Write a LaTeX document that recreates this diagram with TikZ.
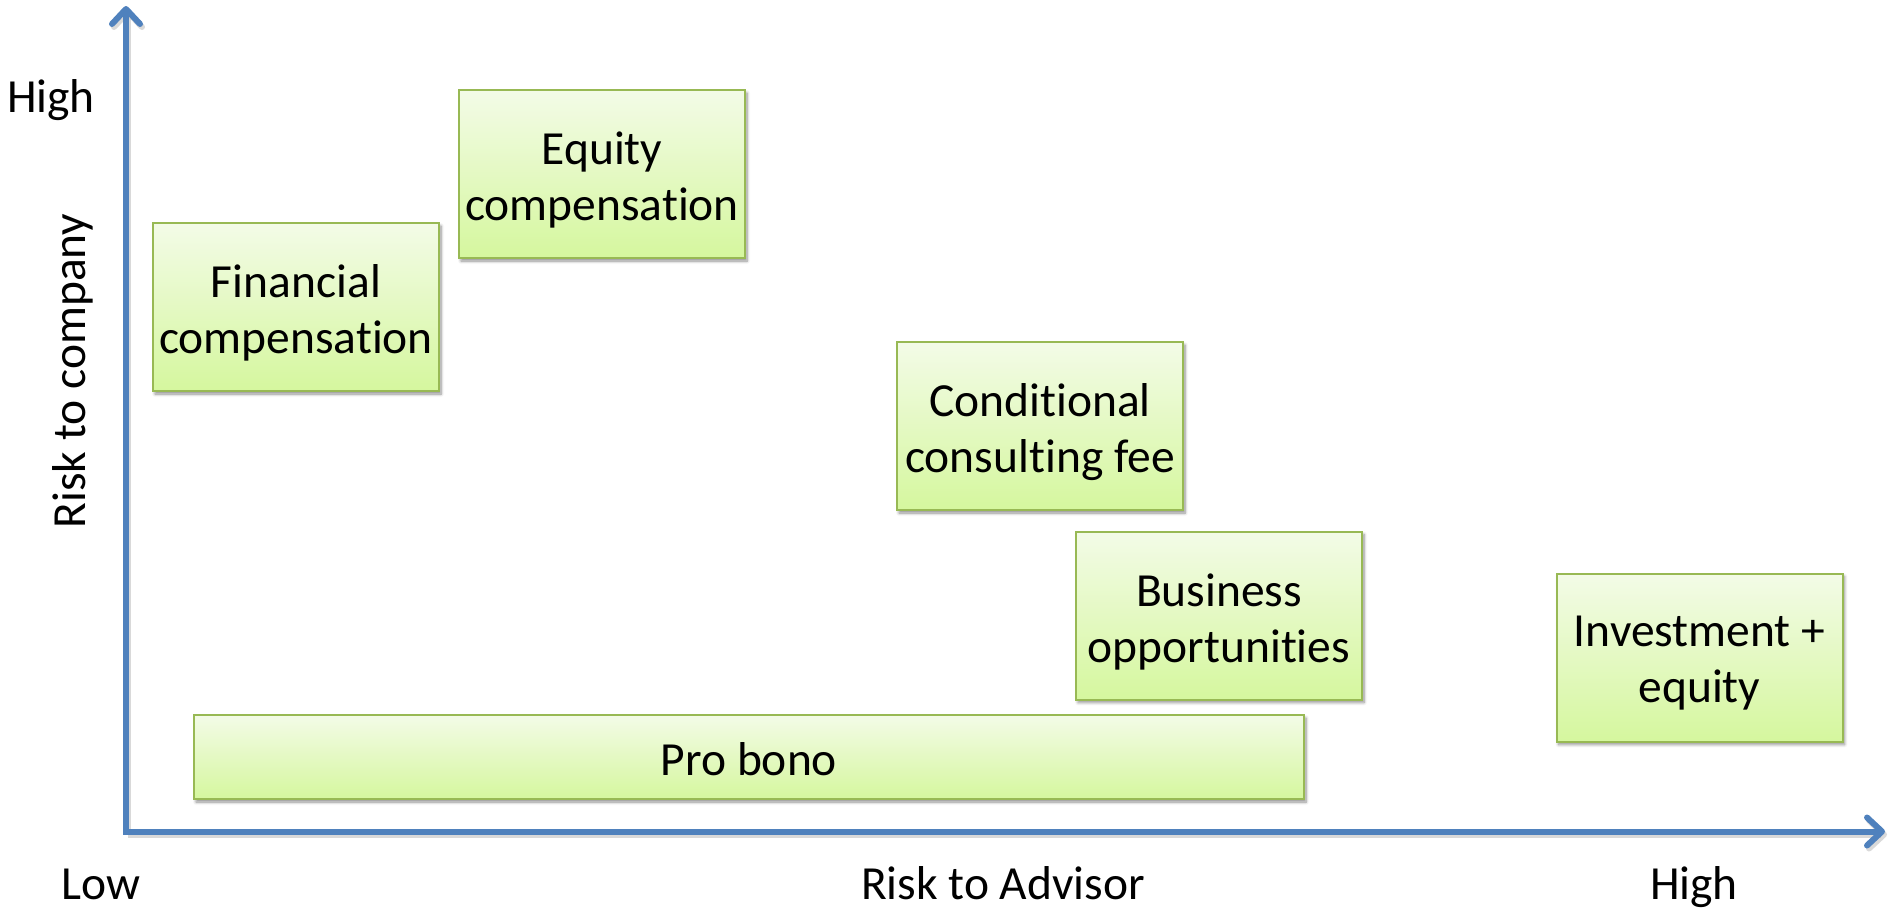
\documentclass[tikz,border=0pt]{standalone}
\usepackage{fontspec}
\setmainfont{Carlito}[Ligatures=CommonOff]
\usetikzlibrary{arrows.meta,shadows.blur}
\definecolor{axisblue}{RGB}{79,129,189}
\definecolor{boxtop}{RGB}{243,251,231}
\definecolor{boxbottom}{RGB}{213,247,158}
\definecolor{boxedge}{RGB}{152,185,84}
\tikzset{
  bigfont/.style={font=\fontsize{47.5}{56}\selectfont},
  lbl/.style={bigfont, anchor=base, inner sep=0pt},
  boxtext/.style={bigfont, align=center, inner sep=0pt, yshift=-6pt},
  optionbox/.style={rectangle, draw=boxedge, line width=2pt,
    top color=boxtop, bottom color=boxbottom,
    minimum width=286pt, minimum height=168pt, inner sep=0pt,
    blur shadow={shadow xshift=2pt, shadow yshift=-3pt, shadow blur steps=6,
      shadow blur radius=3pt, shadow opacity=45}},
  axis/.style={draw=axisblue, line width=6pt,
    -{Straight Barb[round, length=15pt, width=28pt]}},
}
\begin{document}
\begin{tikzpicture}[x=1pt, y=-1pt]
  \useasboundingbox (0,0) rectangle (1890,910);

  % axes with a faint shadow underneath
  \coordinate (origin) at (126,831.5);
  \coordinate (ytip) at (126,6);
  \coordinate (xtip) at (1885,831.5);
  \draw[axis, draw=black!25, opacity=0.6] ([xshift=2pt,yshift=-3pt]origin) -- ([xshift=2pt,yshift=-3pt]ytip);
  \draw[axis, draw=black!25, opacity=0.6] ([xshift=2pt,yshift=-3pt]origin) -- ([xshift=2pt,yshift=-3pt]xtip);
  \draw[axis] ([yshift=-3pt]origin) -- (ytip);
  \draw[axis] ([xshift=-3pt]origin) -- (xtip);

  % axis labels
  \node[lbl] (yhigh) at (51,112) {High};
  \node[lbl, rotate=90] (ylabel) at (85,371) {Risk to company};
  \node[lbl] (xlow) at (101,899) {Low};
  \node[lbl] (xlabel) at (1003,899) {Risk to Advisor};
  \node[lbl] (xhigh) at (1694,899) {High};

  % compensation options
  \node[optionbox, label={[boxtext]center:Financial\\compensation}] (financial) at (296,307) {};
  \node[optionbox, label={[boxtext]center:Equity\\compensation}] (equity) at (602,174) {};
  \node[optionbox, label={[boxtext]center:Conditional\\consulting fee}] (conditional) at (1040,426) {};
  \node[optionbox, label={[boxtext]center:Business\\opportunities}] (business) at (1219,615.5) {};
  \node[optionbox, label={[boxtext]center:Investment +\\equity}] (investment) at (1699.5,657.5) {};
  \node[optionbox, minimum width=1110pt, minimum height=84pt,
    label={[boxtext, yshift=3.5pt]center:Pro bono}] (probono) at (749,757) {};
\end{tikzpicture}
\end{document}
